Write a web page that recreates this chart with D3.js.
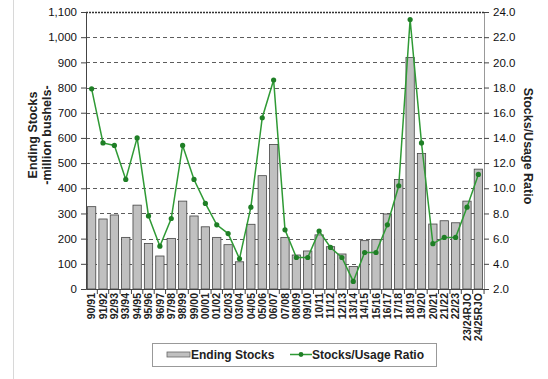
<!DOCTYPE html>
<html>
<head>
<meta charset="utf-8">
<script src="https://cdn.jsdelivr.net/npm/d3@7/dist/d3.min.js"></script>
<style>
  html, body { margin: 0; padding: 0; background: #fff; }
  svg { display: block; font-family: Arial, "Liberation Sans", sans-serif; }
</style>
</head>
<body>
<svg id="chart" width="548" height="379"></svg>
<script>
// Marketing years
const seasons = [
  "90/91","91/92","92/93","93/94","94/95","95/96","96/97","97/98","98/99","99/00",
  "00/01","01/02","02/03","03/04","04/05","05/06","06/07","07/08","08/09","09/10",
  "10/11","11/12","12/13","13/14","14/15","15/16","16/17","17/18","18/19","19/20",
  "20/21","21/22","22/23","23/24RJO","24/25RJO"
];

// Ending stocks, million bushels
const endingStocks = [
  327, 278, 294, 205, 333, 181, 131, 201, 349, 290,
  247, 205, 176, 108, 257, 450, 574, 205, 135, 151,
  215, 168, 139, 89, 192, 197, 298, 435, 919, 538,
  258, 271, 263, 349, 476
];

// Stocks-to-use ratio, percent
const stocksUsage = [
  17.9, 13.6, 13.4, 10.7, 14.0, 7.8, 5.4, 7.6, 13.4, 10.7,
  8.8, 7.1, 6.4, 4.4, 8.5, 15.6, 18.6, 6.7, 4.5, 4.5,
  6.6, 5.3, 4.5, 2.6, 4.9, 4.9, 7.1, 10.2, 23.4, 13.6,
  5.6, 6.1, 6.1, 8.5, 11.1
];

const leftTicks = [0,100,200,300,400,500,600,700,800,900,1000,1100];
const rightTicks = [2,4,6,8,10,12,14,16,18,20,22,24];

const svg = d3.select("#chart");
const plot = { left: 86, right: 484, top: 12, bottom: 289 };

const x = d3.scaleBand().domain(seasons).range([plot.left, plot.right]).paddingInner(0.27).paddingOuter(0.13);
const yL = d3.scaleLinear().domain([0, 1100]).range([plot.bottom, plot.top]);
const yR = d3.scaleLinear().domain([2, 24]).range([plot.bottom, plot.top]);

// outer frame line on the left
svg.append("line").attr("x1", 13.5).attr("x2", 13.5).attr("y1", 0).attr("y2", 379)
  .attr("stroke", "#d8d8d8").attr("stroke-width", 1);

// horizontal gridlines
svg.append("g").selectAll("line").data(leftTicks.filter(d => d > 0)).join("line")
  .attr("x1", plot.left).attr("x2", plot.right)
  .attr("y1", d => Math.round(yL(d)) + 0.5).attr("y2", d => Math.round(yL(d)) + 0.5)
  .attr("stroke", "#333").attr("stroke-width", d => d === 1100 ? 1.4 : 0.8)
  .attr("stroke-dasharray", d => d === 1100 ? "2,1" : "4,3");

// bars
svg.append("g").selectAll("rect").data(seasons).join("rect")
  .attr("x", d => x(d))
  .attr("width", x.bandwidth())
  .attr("y", (d, i) => yL(endingStocks[i]))
  .attr("height", (d, i) => plot.bottom - yL(endingStocks[i]))
  .attr("fill", "#c0c0c0").attr("stroke", "#444").attr("stroke-width", 0.8);

// left axis
const axL = d3.axisLeft(yL).tickValues(leftTicks).tickSize(5).tickFormat(d3.format(","));
const gL = svg.append("g").attr("transform", `translate(${plot.left},0)`).call(axL);
gL.select(".domain").attr("stroke", "#444");
gL.selectAll(".tick line").attr("stroke", "#444");
gL.selectAll("text").attr("font-size", 11.5).attr("fill", "#111").attr("x", -9);

// right axis
const axR = d3.axisRight(yR).tickValues(rightTicks).tickSize(5).tickFormat(d3.format(".1f"));
const gR = svg.append("g").attr("transform", `translate(${plot.right},0)`).call(axR);
gR.select(".domain").attr("stroke", "#999");
gR.selectAll(".tick line").attr("stroke", "#444");
gR.selectAll("text").attr("font-size", 11.5).attr("fill", "#111").attr("x", 9);

// bottom axis
const axB = d3.axisBottom(x).tickSize(5).tickSizeOuter(0);
const gB = svg.append("g").attr("transform", `translate(0,${plot.bottom})`).call(axB);
gB.select(".domain").attr("stroke", "#444");
gB.selectAll(".tick line").attr("stroke", "#444")
  .attr("transform", `translate(${x.step() / 2},0)`);
gB.selectAll("text")
  .attr("font-size", 10.5).attr("font-weight", "bold").attr("fill", "#222")
  .attr("transform", "rotate(-90)")
  .attr("text-anchor", "end")
  .attr("x", -4).attr("y", 0).attr("dy", "0.35em");

// stocks/usage line
const line = d3.line().x((d, i) => x(seasons[i]) + x.bandwidth() / 2).y(d => yR(d));
svg.append("path").datum(stocksUsage).attr("d", line)
  .attr("fill", "none").attr("stroke", "#2f9a35").attr("stroke-width", 1.5);
svg.append("g").selectAll("circle").data(stocksUsage).join("circle")
  .attr("cx", (d, i) => x(seasons[i]) + x.bandwidth() / 2)
  .attr("cy", d => yR(d)).attr("r", 2.6).attr("fill", "#1f7f26");

// axis titles
const tl = svg.append("g").attr("transform", "translate(37,135) rotate(-90)")
  .attr("font-size", 12.5).attr("font-weight", "bold").attr("fill", "#222").attr("text-anchor", "middle");
tl.append("text").attr("y", 0).text("Ending Stocks");
tl.append("text").attr("y", 14).text("-million bushels-");

svg.append("text").attr("transform", "translate(524,146) rotate(90)")
  .attr("font-size", 12.5).attr("font-weight", "bold").attr("fill", "#222").attr("text-anchor", "middle")
  .text("Stocks/Usage Ratio");

// legend
const lg = svg.append("g");
lg.append("rect").attr("x", 152.5).attr("y", 343.5).attr("width", 284).attr("height", 23)
  .attr("fill", "#fff").attr("stroke", "#999");
lg.append("rect").attr("x", 167).attr("y", 352).attr("width", 23).attr("height", 5)
  .attr("fill", "#c0c0c0").attr("stroke", "#666").attr("stroke-width", 0.8);
lg.append("text").attr("x", 191).attr("y", 359).attr("font-size", 12).attr("font-weight", "bold")
  .attr("fill", "#222").text("Ending Stocks");
lg.append("line").attr("x1", 290).attr("x2", 312).attr("y1", 354.5).attr("y2", 354.5)
  .attr("stroke", "#2f9a35").attr("stroke-width", 1.5);
lg.append("circle").attr("cx", 301).attr("cy", 354.5).attr("r", 2.4).attr("fill", "#1f7f26");
lg.append("text").attr("x", 312).attr("y", 359).attr("font-size", 12).attr("font-weight", "bold")
  .attr("fill", "#222").text("Stocks/Usage Ratio");
</script>
</body>
</html>
